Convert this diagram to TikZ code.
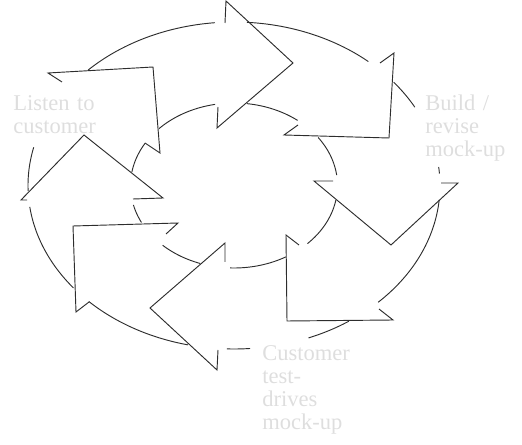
\documentclass[tikz,border=0pt]{standalone}
\usepackage{fontspec}
\setmainfont{Liberation Serif}
\definecolor{lbl}{RGB}{222,222,222}
\definecolor{ink}{RGB}{45,45,45}
\tikzset{
  ln/.style={draw=ink, line width=0.7pt, line join=miter},
  lbltext/.style={text=lbl, inner sep=0pt, anchor=base west, align=left, text width=110pt,
    font=\fontsize{16.9}{17.25}\selectfont},
}
% outer / inner ellipse arcs: #1 start angle, #2 end angle
\newcommand{\outerarc}[2]{\draw[ln] plot[domain=#1:#2, samples=40, smooth] ({234+206*cos(\x)},{185.5+163.5*sin(\x)});}
\newcommand{\innerarc}[2]{\draw[ln] plot[domain=#1:#2, samples=40, smooth] ({234+103.5*cos(\x)},{185.5+82.5*sin(\x)});}
\begin{document}
\begin{tikzpicture}[x=0.75pt, y=-0.75pt]
\useasboundingbox (0,0) rectangle (522,445);

% ---- arrow heads: outer join -> base end -> tip -> base end -> inner join
\coordinate (t1) at (153,67);
\coordinate (t2) at (293,63);
\coordinate (t3) at (389,138);
\coordinate (t4) at (391,245);
\coordinate (t5) at (287,321);
\coordinate (t6) at (150,308);
\coordinate (t7) at (73,226);
\coordinate (t8) at (84,135);

\draw[ln] (62,82) -- (48,73) -- (t1) -- (160,153) -- (145,143);
\draw[ln] (225,23) -- (226,1) -- (t2) -- (217,128) -- (218,107);
\draw[ln] (380,63) -- (394,53) -- (t3) -- (284,135) -- (298,125);
\draw[ln] (441,183) -- (458,183) -- (t4) -- (314,181) -- (333,181);
\draw[ln] (379,309) -- (393,320) -- (t5) -- (286,235) -- (299,245);
\draw[ln] (218,350) -- (217,370) -- (t6) -- (225,243) -- (225,262);
\draw[ln] (89,302) -- (76,312) -- (t7) -- (178,223) -- (166,234);
\draw[ln] (27,200) -- (21,200) -- (t8) -- (163,198) -- (133,199);

% ---- outer arcs
\outerarc{-135.1}{-95.3}
\outerarc{-86.4}{-49.3}
\outerarc{-39.2}{-28.6}
\outerarc{-6.5}{-4.2}
\outerarc{5.1}{45.6}
\outerarc{56.1}{68.8}
\outerarc{85.5}{92}
\outerarc{102.9}{134.8}
\outerarc{141.2}{172.5}
\outerarc{178}{193.5}

% ---- inner arcs
\innerarc{-136.5}{-100.5}
\innerarc{-82.8}{-52.1}
\innerarc{-35.6}{-7.2}
\innerarc{10.1}{44.8}
\innerarc{59.9}{92.2}
\innerarc{109}{133.6}
\innerarc{153.4}{166.4}
\innerarc{189.4}{210.9}

% ---- labels
\node[lbltext] (listen) at (13,111) {Listen to\\customer};
\node[lbltext] (build) at (425,111) {Build /\\revise\\mock-up};
\node[lbltext] (test) at (262,361) {Customer\\test-\\drives\\mock-up};
\end{tikzpicture}
\end{document}
